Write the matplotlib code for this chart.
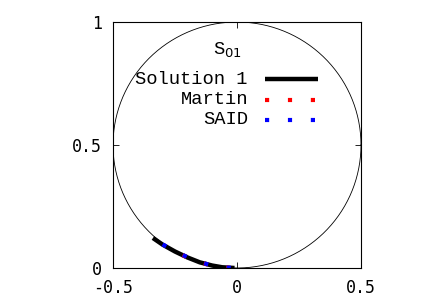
import numpy as np
import matplotlib
matplotlib.use("Agg")
import matplotlib.pyplot as plt

# Data (Argand diagram points, Re vs Im)
sol1_re = [-0.339, -0.30, -0.25, -0.20, -0.15, -0.10, -0.06, -0.01]
sol1_im = [0.122, 0.095, 0.067, 0.043, 0.023, 0.010, 0.003, 0.000]
martin_re = [-0.22, -0.18, -0.14, -0.10, -0.06, -0.03]
martin_im = [0.052, 0.035, 0.020, 0.010, 0.003, 0.001]
said_re = [-0.30, -0.25, -0.20, -0.15, -0.10, -0.05, 0.00]
said_im = [0.096, 0.068, 0.044, 0.024, 0.010, 0.002, 0.000]
labels = ["Solution 1", "Martin", "SAID"]
xticks = [-0.5, 0, 0.5]
yticks = [0, 0.5, 1]
xticklabels = ["-0.5", "0", "0.5"]
yticklabels = ["0", "0.5", "1"]

fig = plt.figure(figsize=(4.36, 3.05), dpi=100)
ax = fig.add_axes([113/436, 37/305, 248/436, 246/305])

# unitarity circle
t = np.linspace(0, 2*np.pi, 400)
ax.plot(0.5*np.cos(t), 0.5 + 0.5*np.sin(t), color="black", lw=0.6)

styles = [dict(color="black", lw=3.2, solid_capstyle="butt"),
          dict(color="red", lw=3.0, linestyle=(0, (1, 4.5))),
          dict(color="blue", lw=3.0, linestyle=(0, (1, 4.5)))]
series = [(sol1_re, sol1_im), (martin_re, martin_im), (said_re, said_im)]
for (xs, ys), st in zip(series, styles):
    ax.plot(xs, ys, **st)

ax.set_xlim(-0.5, 0.5)
ax.set_ylim(0, 1)
ax.set_xticks(xticks)
ax.set_xticklabels(xticklabels, family="DejaVu Sans Mono", fontsize=12)
ax.set_yticks(yticks)
ax.set_yticklabels(yticklabels, family="DejaVu Sans Mono", fontsize=12)
ax.tick_params(axis="x", direction="in", top=True, length=4, width=0.6, pad=8)
ax.tick_params(axis="y", direction="in", right=True, length=4, width=0.6, pad=8)
for s in ax.spines.values():
    s.set_linewidth(0.8)

# key (gnuplot style)
ax.text(0.46, 0.886, r"S$_{01}$", fontsize=13.5, family="Liberation Mono",
        ha="center", va="center", transform=ax.transAxes)
rows = [0.768, 0.683, 0.602]
for lab, st, yy in zip(labels, styles, rows):
    ax.text(0.544, yy, lab, fontsize=13.5, family="Liberation Mono",
            ha="right", va="center", transform=ax.transAxes)
    ax.plot([0.613, 0.827], [yy, yy], transform=ax.transAxes, **st)

fig.savefig("out.png", dpi=100)
